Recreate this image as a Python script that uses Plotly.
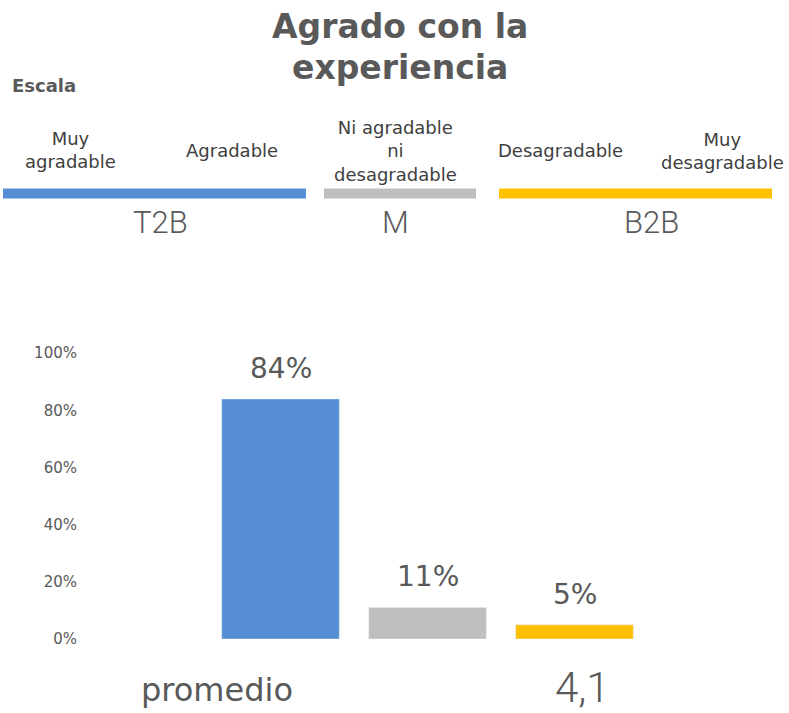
import plotly.graph_objects as go

# ---- data ----
categories = ["T2B", "M", "B2B"]
values = [84, 11, 5]
bar_colors = ["#558ED5", "#BFBFBF", "#FFC000"]
y_ticks = [0, 20, 40, 60, 80, 100]
y_tick_labels = ["0%", "20%", "40%", "60%", "80%", "100%"]
promedio_label = "promedio"
promedio_value = "4,1"

title_lines = ["Agrado con la", "experiencia"]
scale_title = "Escala"
scale_labels = ["Muy<br>agradable", "Agradable", "Ni agradable<br>ni<br>desagradable",
                "Desagradable", "Muy<br>desagradable"]
group_labels = ["T2B", "M", "B2B"]

W, H = 789, 713
FONT = "DejaVu Sans"
FONT2 = "Roboto"
GRAY = "#595959"
DARK = "#404040"

# vertical calibration of the photographed page
VS, VO = 0.977, 8.0


def px(x):
    return x / W


def py(y):
    ly = (y - VO) / VS
    return 1 - ly / H


fig = go.Figure()
fig.add_trace(go.Bar(
    x=categories, y=values, marker_color=bar_colors, width=0.8,
    showlegend=False, hoverinfo="skip"))

annotations = []
# data labels
for c, v in zip(categories, values):
    annotations.append(dict(x=c, y=v, xref="x", yref="y", text=f"{v}%",
                            showarrow=False, yshift=30 / VS, yanchor="middle",
                            font=dict(family=FONT, size=28, color=GRAY)))

# title
for t, y in zip(title_lines, [26, 67]):
    annotations.append(dict(x=px(400), y=py(y), xref="paper", yref="paper",
                            text=f"<b>{t}</b>", showarrow=False,
                            xanchor="center", yanchor="middle",
                            font=dict(family=FONT, size=33, color=GRAY)))
annotations.append(dict(x=px(10), y=py(85), xref="paper", yref="paper",
                        text=f"<b>{scale_title}</b>", showarrow=False,
                        xanchor="left", yanchor="middle",
                        font=dict(family=FONT, size=18, color=GRAY)))

scale_pos = [(70, 149), (232, 150), (396, 150), (560, 150), (722, 150)]
for t, (x, y) in zip(scale_labels, scale_pos):
    annotations.append(dict(x=px(x), y=py(y), xref="paper", yref="paper", text=t,
                            showarrow=False, xanchor="center", yanchor="middle",
                            font=dict(family=FONT, size=18, color=DARK)))

group_pos = [(160, 222), (396, 222), (651, 222)]
for t, (x, y) in zip(group_labels, group_pos):
    annotations.append(dict(x=px(x), y=py(y), xref="paper", yref="paper", text=t,
                            showarrow=False, xanchor="center", yanchor="middle",
                            font=dict(family=FONT2, size=31, color=GRAY, weight=300)))

annotations.append(dict(x=px(217), y=py(691), xref="paper", yref="paper",
                        text=promedio_label, showarrow=False,
                        xanchor="center", yanchor="middle",
                        font=dict(family=FONT, size=32, color=GRAY)))
annotations.append(dict(x=px(582), y=py(688), xref="paper", yref="paper",
                        text=promedio_value, showarrow=False,
                        xanchor="center", yanchor="middle",
                        font=dict(family=FONT2, size=42, color=GRAY, weight=300)))

# header colour strips
strips = [(3, 306, bar_colors[0]), (324, 476, bar_colors[1]), (499, 772, bar_colors[2])]
shapes = [dict(type="rect", xref="paper", yref="paper", x0=px(a), x1=px(b),
               y0=py(198), y1=py(188), fillcolor=c, line=dict(width=0))
          for a, b, c in strips]

x_left = 78
fig.update_layout(
    width=W, height=H, margin=dict(l=0, r=0, t=0, b=0),
    paper_bgcolor="white", plot_bgcolor="white",
    annotations=annotations, shapes=shapes,
    xaxis=dict(domain=[px(x_left), 1], range=[-(280.5 - x_left) / 147, (W - 280.5) / 147],
               showticklabels=False, showgrid=False, zeroline=False, showline=False,
               fixedrange=True),
    yaxis=dict(domain=[py(639.5), py(353)], range=[0, 100], tickvals=y_ticks,
               ticktext=y_tick_labels, showgrid=False, zeroline=False, showline=False,
               tickfont=dict(family=FONT, size=15, color=GRAY), fixedrange=True),
)

post = (
    "document.body.style.margin='0px';"
    "document.documentElement.style.overflow='hidden';"
    "var gd=document.getElementById('{plot_id}');"
    "gd.style.position='fixed';gd.style.top='0px';gd.style.left='0px';"
)
fig.write_html("out.html", config={"displayModeBar": False}, post_script=post)
